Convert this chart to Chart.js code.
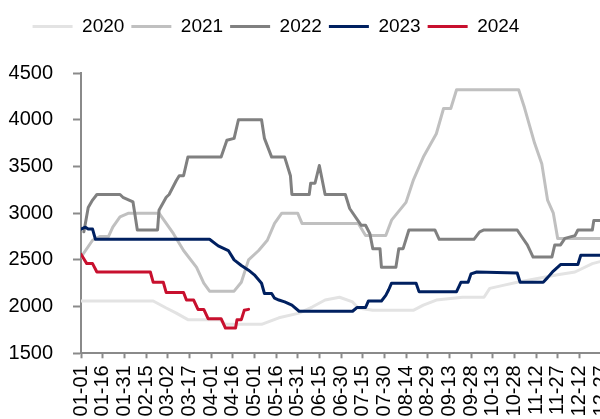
<!DOCTYPE html>
<html lang="en">
<head>
<meta charset="UTF-8">
<title>Chart</title>
<script src="https://cdn.jsdelivr.net/npm/chart.js@4.4.1/dist/chart.umd.min.js"></script>
<style>
    html, body { margin: 0; padding: 0; overflow: hidden; background: #fff; }
</style>
</head>
<body>
<canvas id="myChart" width="632" height="419"></canvas>
<script>
// day 0 = 01-01, one tick label every 15 days
const tickLabels = ['01-01', '01-16', '01-31', '02-15', '03-02', '03-17', '04-01', '04-16',
    '05-01', '05-16', '05-31', '06-15', '06-30', '07-15', '07-30', '08-14', '08-29',
    '09-13', '09-28', '10-13', '10-28', '11-12', '11-27', '12-12', '12-27'];

const years = ['2020', '2021', '2022', '2023', '2024'];
const colors = ['#e3e3e3', '#c0c0c0', '#808080', '#002060', '#c8102e'];

// [day of year, value]
const s2020 = [[0, 2060], [50, 2060], [59, 1985], [66, 1930], [74, 1860], [96, 1860], [100, 1810],
    [125, 1810], [137, 1880], [151, 1930], [160, 1995], [169, 2070], [179, 2100], [188, 2050],
    [192, 1985], [202, 1960], [230, 1960], [237, 2015], [246, 2070], [264, 2100], [279, 2100],
    [283, 2195], [293, 2230], [302, 2260], [330, 2340], [342, 2370], [354, 2460], [364, 2500]];

const s2021 = [[0, 2530], [8, 2710], [13, 2750], [19, 2750], [22, 2850], [27, 2960], [33, 3000],
    [54, 3000], [64, 2780], [71, 2600], [80, 2420], [85, 2250], [89, 2165], [106, 2165],
    [111, 2260], [116, 2500], [123, 2600], [129, 2710], [134, 2890], [139, 3000], [150, 3000],
    [153, 2890], [192, 2890], [197, 2760], [211, 2760], [215, 2925], [225, 3115], [230, 3350],
    [237, 3600], [246, 3850], [251, 4120], [256, 4120], [260, 4320], [303, 4320], [307, 4130],
    [314, 3750], [319, 3530], [323, 3140], [327, 3000], [330, 2730], [364, 2730]];

const s2022 = [[2, 2800], [5, 3060], [8, 3140], [11, 3200], [27, 3200], [29, 3170], [36, 3120],
    [39, 2820], [53, 2820], [54, 3030], [59, 3170], [61, 3200], [66, 3350], [68, 3400], [71, 3400],
    [74, 3600], [97, 3600], [101, 3780], [106, 3800], [109, 4000], [125, 4000], [127, 3800],
    [132, 3600], [141, 3600], [145, 3400], [146, 3200], [158, 3200], [159, 3320], [162, 3320],
    [165, 3510], [169, 3200], [183, 3200], [186, 3050], [194, 2870], [197, 2870], [200, 2780],
    [202, 2620], [207, 2620], [208, 2420], [218, 2420], [220, 2620], [223, 2620], [227, 2820],
    [245, 2820], [248, 2720], [272, 2720], [276, 2800], [279, 2820], [302, 2820], [305, 2750],
    [309, 2660], [313, 2530], [326, 2530], [328, 2660], [332, 2660], [335, 2730], [342, 2760],
    [344, 2820], [354, 2820], [355, 2920], [364, 2920]];

const s2023 = [[0, 2830], [3, 2850], [5, 2830], [8, 2830], [10, 2720], [89, 2720], [95, 2650],
    [102, 2600], [106, 2500], [111, 2440], [116, 2390], [120, 2340], [125, 2250], [127, 2140],
    [132, 2140], [134, 2090], [137, 2070], [141, 2050], [146, 2015], [151, 1950], [188, 1950],
    [191, 1990], [197, 1990], [199, 2060], [208, 2060], [211, 2120], [213, 2180], [215, 2250],
    [232, 2250], [234, 2160], [260, 2160], [263, 2260], [268, 2260], [270, 2350], [274, 2370],
    [302, 2360], [304, 2260], [320, 2260], [323, 2310], [327, 2380], [332, 2450], [344, 2450],
    [346, 2550], [364, 2550]];

const s2024 = [[0, 2560], [4, 2460], [8, 2460], [11, 2370], [48, 2370], [50, 2260], [57, 2260],
    [59, 2150], [71, 2150], [73, 2070], [78, 2070], [81, 1970], [85, 1970], [88, 1870], [97, 1870],
    [100, 1770], [107, 1770], [108, 1860], [111, 1860], [113, 1960], [116, 1970]];

const allSeries = [s2020, s2021, s2022, s2023, s2024];

const font = { family: "'Liberation Sans', Arial, sans-serif", size: 20 };
const axisColor = '#8a8a8a';

// move the legend up/left, independent of the plot area
const legendShift = {
    id: 'legendShift',
    afterLayout(chart) {
        const lg = chart.legend;
        lg.left -= 40; lg.right -= 40;
        lg.top -= 27; lg.bottom -= 27;
    }
};

let datasets = allSeries.map((serie, i) => {
    return {
        label: years[i],
        data: serie.map(p => ({ x: p[0], y: p[1] })),
        borderColor: colors[i],
        backgroundColor: colors[i],
        borderWidth: 3,
        borderCapStyle: 'round',
        borderJoinStyle: 'round',
        pointRadius: 0,
        tension: 0,
        fill: false,
        order: allSeries.length - i
    };
});

let ctx = document.querySelector('#myChart').getContext('2d');
let myChart = new Chart(ctx, {
    type: 'line',
    data: { datasets: datasets },
    options: {
        responsive: false,
        animation: false,
        layout: { padding: { top: 37, left: 0, right: 0, bottom: 0 } },
        plugins: {
            tooltip: { enabled: false },
            legend: {
                position: 'top',
                labels: {
                    usePointStyle: true,
                    pointStyle: 'line',
                    pointStyleWidth: 40,
                    padding: 7,
                    color: '#000',
                    font: { family: font.family, size: 19 },
                    sort: (a, b) => a.datasetIndex - b.datasetIndex
                }
            }
        },
        scales: {
            x: {
                type: 'linear',
                min: 0,
                max: 364,
                afterFit: (scale) => { scale.height = 65.7; },
                border: { display: true, color: axisColor, width: 2 },
                grid: { drawOnChartArea: false, drawTicks: true, tickLength: 5, tickColor: axisColor, tickWidth: 2 },
                ticks: {
                    stepSize: 15,
                    includeBounds: false,
                    autoSkip: false,
                    minRotation: 90,
                    maxRotation: 90,
                    padding: 7,
                    color: '#000',
                    font: font,
                    callback: (v) => tickLabels[v / 15]
                }
            },
            y: {
                min: 1500,
                max: 4500,
                afterFit: (scale) => { scale.width = 81; },
                border: { display: true, color: axisColor, width: 2 },
                grid: { drawOnChartArea: false, drawTicks: true, tickLength: 8, tickColor: axisColor, tickWidth: 2 },
                ticks: {
                    stepSize: 500,
                    padding: 20,
                    color: '#000',
                    font: font,
                    callback: (v) => String(v)
                }
            }
        }
    },
    plugins: [legendShift]
});
</script>
</body>
</html>
